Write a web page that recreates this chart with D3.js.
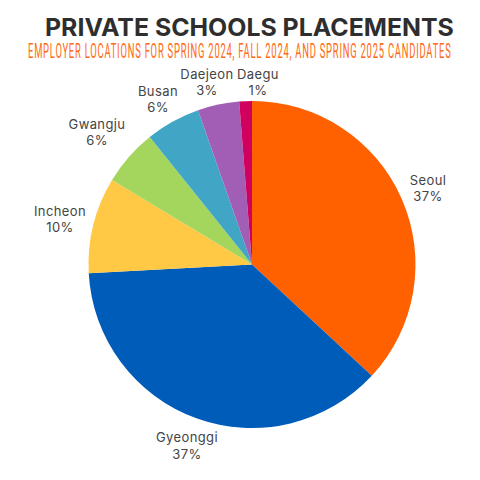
<!DOCTYPE html>
<html><head><meta charset="utf-8">
<script src="https://cdnjs.cloudflare.com/ajax/libs/d3/7.8.5/d3.min.js"></script>
<style>html,body{margin:0;padding:0;background:#fff}svg{display:block}</style></head>
<body><svg id="c" width="480" height="480"></svg>
<script>
const cities=["Seoul","Gyeonggi","Incheon","Gwangju","Busan","Daejeon","Daegu"];
const shares=[36.9,37.2,9.5,5.6,5.4,4.1,1.25];
const pctLabels=["37%","37%","10%","6%","6%","3%","1%"];
const colors=["#ff6000","#005cb9","#ffc845","#a4d65e","#41a6c6","#a25eb5","#d0005f"];
const labelX=[428,187,60,97,158,207,258];
const labelY=[180,437,211,124,91,74,74];
const svg=d3.select("#c");
const cx=252,cy=264.5,r=163.5;
const arcs=d3.pie().sort(null)(shares);
const arc=d3.arc().innerRadius(0).outerRadius(r);
svg.append("g").attr("transform",`translate(${cx},${cy})`).selectAll("path").data(arcs).join("path")
 .attr("d",arc).attr("fill",(d,i)=>colors[i]);
function fitted(text,x,y,w,attrs){
 const t=svg.append("text").text(text);
 Object.entries(attrs).forEach(([k,v])=>t.attr(k,v));
 const k=w/t.node().getComputedTextLength();
 t.attr("transform",`translate(${x},${y}) scale(${k},1)`);
}
fitted("PRIVATE SCHOOLS PLACEMENTS",45,36,409,{"font-family":"Inter, 'Open Sans', sans-serif","font-weight":700,"font-size":24,"fill":"#2e2e2e"});
fitted("EMPLOYER LOCATIONS FOR SPRING 2024, FALL 2024, AND SPRING 2025 CANDIDATES",28,58,424,{"font-family":"'Liberation Sans Narrow', Roboto, sans-serif","font-size":19.5,"letter-spacing":1.6,"fill":"#ff6a13"});
const lab=svg.append("g").attr("font-family","Inter, 'Open Sans', sans-serif").attr("font-size",13).attr("letter-spacing",0.4).attr("fill","#444").attr("text-anchor","middle");
cities.forEach((c,i)=>{
 lab.append("text").attr("x",labelX[i]).attr("y",labelY[i]+4.5).text(c);
 lab.append("text").attr("x",labelX[i]).attr("y",labelY[i]+(i==1?18:16.5)+4).text(pctLabels[i]);
});
</script></body></html>
